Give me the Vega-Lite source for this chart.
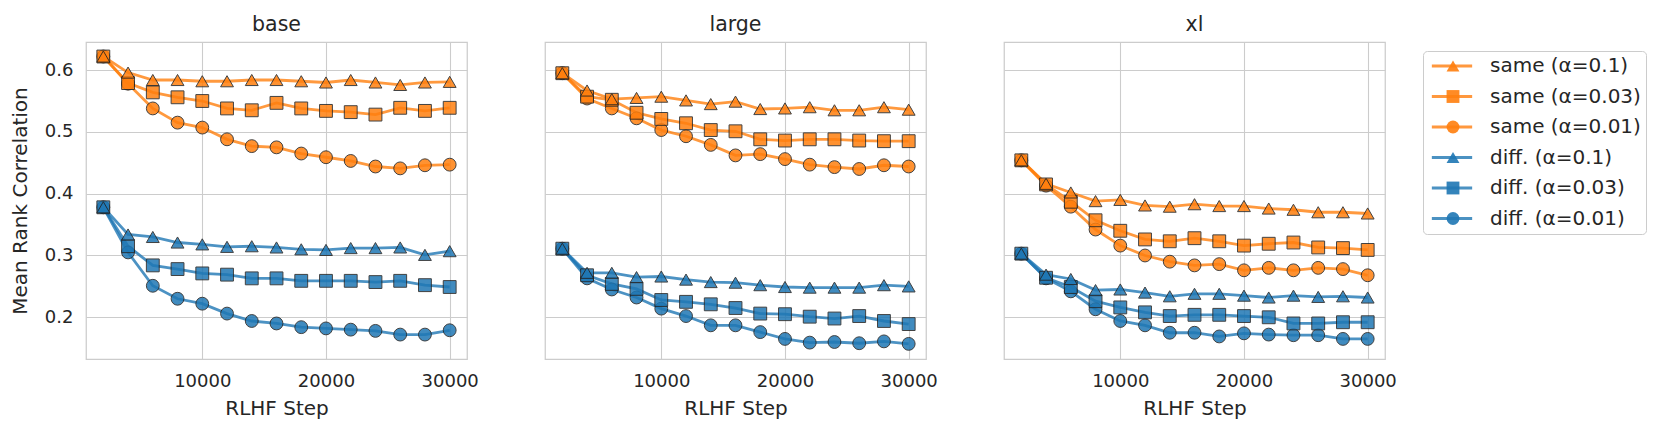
{
  "$schema": "https://vega.github.io/schema/vega-lite/v6.json",
  "padding": {"left": 10, "top": 14, "right": 5, "bottom": 4},
  "config": {"font": "DejaVu Sans", "view": {"stroke": "#cccccc", "strokeWidth": 1.25}},
  "data": {"values": [
    {"model":"base","series":"same (α=0.01)","step":2000,"value":0.622},{"model":"base","series":"same (α=0.01)","step":4000,"value":0.578},{"model":"base","series":"same (α=0.01)","step":6000,"value":0.538},{"model":"base","series":"same (α=0.01)","step":8000,"value":0.515},{"model":"base","series":"same (α=0.01)","step":10000,"value":0.507},{"model":"base","series":"same (α=0.01)","step":12000,"value":0.488},{"model":"base","series":"same (α=0.01)","step":14000,"value":0.477},{"model":"base","series":"same (α=0.01)","step":16000,"value":0.475},{"model":"base","series":"same (α=0.01)","step":18000,"value":0.465},{"model":"base","series":"same (α=0.01)","step":20000,"value":0.459},{"model":"base","series":"same (α=0.01)","step":22000,"value":0.453},{"model":"base","series":"same (α=0.01)","step":24000,"value":0.444},{"model":"base","series":"same (α=0.01)","step":26000,"value":0.441},{"model":"base","series":"same (α=0.01)","step":28000,"value":0.446},{"model":"base","series":"same (α=0.01)","step":30000,"value":0.447},
    {"model":"base","series":"same (α=0.03)","step":2000,"value":0.622},{"model":"base","series":"same (α=0.03)","step":4000,"value":0.579},{"model":"base","series":"same (α=0.03)","step":6000,"value":0.564},{"model":"base","series":"same (α=0.03)","step":8000,"value":0.556},{"model":"base","series":"same (α=0.03)","step":10000,"value":0.550},{"model":"base","series":"same (α=0.03)","step":12000,"value":0.538},{"model":"base","series":"same (α=0.03)","step":14000,"value":0.535},{"model":"base","series":"same (α=0.03)","step":16000,"value":0.547},{"model":"base","series":"same (α=0.03)","step":18000,"value":0.538},{"model":"base","series":"same (α=0.03)","step":20000,"value":0.534},{"model":"base","series":"same (α=0.03)","step":22000,"value":0.532},{"model":"base","series":"same (α=0.03)","step":24000,"value":0.528},{"model":"base","series":"same (α=0.03)","step":26000,"value":0.539},{"model":"base","series":"same (α=0.03)","step":28000,"value":0.534},{"model":"base","series":"same (α=0.03)","step":30000,"value":0.539},
    {"model":"base","series":"same (α=0.1)","step":2000,"value":0.622},{"model":"base","series":"same (α=0.1)","step":4000,"value":0.596},{"model":"base","series":"same (α=0.1)","step":6000,"value":0.584},{"model":"base","series":"same (α=0.1)","step":8000,"value":0.584},{"model":"base","series":"same (α=0.1)","step":10000,"value":0.582},{"model":"base","series":"same (α=0.1)","step":12000,"value":0.582},{"model":"base","series":"same (α=0.1)","step":14000,"value":0.584},{"model":"base","series":"same (α=0.1)","step":16000,"value":0.584},{"model":"base","series":"same (α=0.1)","step":18000,"value":0.582},{"model":"base","series":"same (α=0.1)","step":20000,"value":0.580},{"model":"base","series":"same (α=0.1)","step":22000,"value":0.584},{"model":"base","series":"same (α=0.1)","step":24000,"value":0.580},{"model":"base","series":"same (α=0.1)","step":26000,"value":0.576},{"model":"base","series":"same (α=0.1)","step":28000,"value":0.580},{"model":"base","series":"same (α=0.1)","step":30000,"value":0.581},
    {"model":"base","series":"diff. (α=0.01)","step":2000,"value":0.378},{"model":"base","series":"diff. (α=0.01)","step":4000,"value":0.305},{"model":"base","series":"diff. (α=0.01)","step":6000,"value":0.251},{"model":"base","series":"diff. (α=0.01)","step":8000,"value":0.230},{"model":"base","series":"diff. (α=0.01)","step":10000,"value":0.222},{"model":"base","series":"diff. (α=0.01)","step":12000,"value":0.206},{"model":"base","series":"diff. (α=0.01)","step":14000,"value":0.194},{"model":"base","series":"diff. (α=0.01)","step":16000,"value":0.190},{"model":"base","series":"diff. (α=0.01)","step":18000,"value":0.184},{"model":"base","series":"diff. (α=0.01)","step":20000,"value":0.182},{"model":"base","series":"diff. (α=0.01)","step":22000,"value":0.180},{"model":"base","series":"diff. (α=0.01)","step":24000,"value":0.178},{"model":"base","series":"diff. (α=0.01)","step":26000,"value":0.172},{"model":"base","series":"diff. (α=0.01)","step":28000,"value":0.172},{"model":"base","series":"diff. (α=0.01)","step":30000,"value":0.179},
    {"model":"base","series":"diff. (α=0.03)","step":2000,"value":0.378},{"model":"base","series":"diff. (α=0.03)","step":4000,"value":0.315},{"model":"base","series":"diff. (α=0.03)","step":6000,"value":0.284},{"model":"base","series":"diff. (α=0.03)","step":8000,"value":0.278},{"model":"base","series":"diff. (α=0.03)","step":10000,"value":0.271},{"model":"base","series":"diff. (α=0.03)","step":12000,"value":0.269},{"model":"base","series":"diff. (α=0.03)","step":14000,"value":0.263},{"model":"base","series":"diff. (α=0.03)","step":16000,"value":0.263},{"model":"base","series":"diff. (α=0.03)","step":18000,"value":0.259},{"model":"base","series":"diff. (α=0.03)","step":20000,"value":0.259},{"model":"base","series":"diff. (α=0.03)","step":22000,"value":0.259},{"model":"base","series":"diff. (α=0.03)","step":24000,"value":0.257},{"model":"base","series":"diff. (α=0.03)","step":26000,"value":0.259},{"model":"base","series":"diff. (α=0.03)","step":28000,"value":0.252},{"model":"base","series":"diff. (α=0.03)","step":30000,"value":0.249},
    {"model":"base","series":"diff. (α=0.1)","step":2000,"value":0.378},{"model":"base","series":"diff. (α=0.1)","step":4000,"value":0.334},{"model":"base","series":"diff. (α=0.1)","step":6000,"value":0.330},{"model":"base","series":"diff. (α=0.1)","step":8000,"value":0.321},{"model":"base","series":"diff. (α=0.1)","step":10000,"value":0.318},{"model":"base","series":"diff. (α=0.1)","step":12000,"value":0.314},{"model":"base","series":"diff. (α=0.1)","step":14000,"value":0.315},{"model":"base","series":"diff. (α=0.1)","step":16000,"value":0.313},{"model":"base","series":"diff. (α=0.1)","step":18000,"value":0.310},{"model":"base","series":"diff. (α=0.1)","step":20000,"value":0.309},{"model":"base","series":"diff. (α=0.1)","step":22000,"value":0.312},{"model":"base","series":"diff. (α=0.1)","step":24000,"value":0.312},{"model":"base","series":"diff. (α=0.1)","step":26000,"value":0.313},{"model":"base","series":"diff. (α=0.1)","step":28000,"value":0.301},{"model":"base","series":"diff. (α=0.1)","step":30000,"value":0.307},

    {"model":"large","series":"same (α=0.01)","step":2000,"value":0.595},{"model":"large","series":"same (α=0.01)","step":4000,"value":0.554},{"model":"large","series":"same (α=0.01)","step":6000,"value":0.538},{"model":"large","series":"same (α=0.01)","step":8000,"value":0.522},{"model":"large","series":"same (α=0.01)","step":10000,"value":0.503},{"model":"large","series":"same (α=0.01)","step":12000,"value":0.493},{"model":"large","series":"same (α=0.01)","step":14000,"value":0.479},{"model":"large","series":"same (α=0.01)","step":16000,"value":0.462},{"model":"large","series":"same (α=0.01)","step":18000,"value":0.464},{"model":"large","series":"same (α=0.01)","step":20000,"value":0.456},{"model":"large","series":"same (α=0.01)","step":22000,"value":0.447},{"model":"large","series":"same (α=0.01)","step":24000,"value":0.443},{"model":"large","series":"same (α=0.01)","step":26000,"value":0.440},{"model":"large","series":"same (α=0.01)","step":28000,"value":0.446},{"model":"large","series":"same (α=0.01)","step":30000,"value":0.444},
    {"model":"large","series":"same (α=0.03)","step":2000,"value":0.595},{"model":"large","series":"same (α=0.03)","step":4000,"value":0.557},{"model":"large","series":"same (α=0.03)","step":6000,"value":0.552},{"model":"large","series":"same (α=0.03)","step":8000,"value":0.531},{"model":"large","series":"same (α=0.03)","step":10000,"value":0.521},{"model":"large","series":"same (α=0.03)","step":12000,"value":0.514},{"model":"large","series":"same (α=0.03)","step":14000,"value":0.503},{"model":"large","series":"same (α=0.03)","step":16000,"value":0.501},{"model":"large","series":"same (α=0.03)","step":18000,"value":0.488},{"model":"large","series":"same (α=0.03)","step":20000,"value":0.486},{"model":"large","series":"same (α=0.03)","step":22000,"value":0.488},{"model":"large","series":"same (α=0.03)","step":24000,"value":0.488},{"model":"large","series":"same (α=0.03)","step":26000,"value":0.486},{"model":"large","series":"same (α=0.03)","step":28000,"value":0.485},{"model":"large","series":"same (α=0.03)","step":30000,"value":0.485},
    {"model":"large","series":"same (α=0.1)","step":2000,"value":0.595},{"model":"large","series":"same (α=0.1)","step":4000,"value":0.567},{"model":"large","series":"same (α=0.1)","step":6000,"value":0.553},{"model":"large","series":"same (α=0.1)","step":8000,"value":0.555},{"model":"large","series":"same (α=0.1)","step":10000,"value":0.557},{"model":"large","series":"same (α=0.1)","step":12000,"value":0.551},{"model":"large","series":"same (α=0.1)","step":14000,"value":0.545},{"model":"large","series":"same (α=0.1)","step":16000,"value":0.549},{"model":"large","series":"same (α=0.1)","step":18000,"value":0.537},{"model":"large","series":"same (α=0.1)","step":20000,"value":0.538},{"model":"large","series":"same (α=0.1)","step":22000,"value":0.540},{"model":"large","series":"same (α=0.1)","step":24000,"value":0.535},{"model":"large","series":"same (α=0.1)","step":26000,"value":0.535},{"model":"large","series":"same (α=0.1)","step":28000,"value":0.540},{"model":"large","series":"same (α=0.1)","step":30000,"value":0.536},
    {"model":"large","series":"diff. (α=0.01)","step":2000,"value":0.311},{"model":"large","series":"diff. (α=0.01)","step":4000,"value":0.263},{"model":"large","series":"diff. (α=0.01)","step":6000,"value":0.245},{"model":"large","series":"diff. (α=0.01)","step":8000,"value":0.232},{"model":"large","series":"diff. (α=0.01)","step":10000,"value":0.214},{"model":"large","series":"diff. (α=0.01)","step":12000,"value":0.202},{"model":"large","series":"diff. (α=0.01)","step":14000,"value":0.187},{"model":"large","series":"diff. (α=0.01)","step":16000,"value":0.187},{"model":"large","series":"diff. (α=0.01)","step":18000,"value":0.176},{"model":"large","series":"diff. (α=0.01)","step":20000,"value":0.165},{"model":"large","series":"diff. (α=0.01)","step":22000,"value":0.159},{"model":"large","series":"diff. (α=0.01)","step":24000,"value":0.160},{"model":"large","series":"diff. (α=0.01)","step":26000,"value":0.158},{"model":"large","series":"diff. (α=0.01)","step":28000,"value":0.161},{"model":"large","series":"diff. (α=0.01)","step":30000,"value":0.157},
    {"model":"large","series":"diff. (α=0.03)","step":2000,"value":0.311},{"model":"large","series":"diff. (α=0.03)","step":4000,"value":0.268},{"model":"large","series":"diff. (α=0.03)","step":6000,"value":0.254},{"model":"large","series":"diff. (α=0.03)","step":8000,"value":0.246},{"model":"large","series":"diff. (α=0.03)","step":10000,"value":0.228},{"model":"large","series":"diff. (α=0.03)","step":12000,"value":0.225},{"model":"large","series":"diff. (α=0.03)","step":14000,"value":0.221},{"model":"large","series":"diff. (α=0.03)","step":16000,"value":0.215},{"model":"large","series":"diff. (α=0.03)","step":18000,"value":0.206},{"model":"large","series":"diff. (α=0.03)","step":20000,"value":0.205},{"model":"large","series":"diff. (α=0.03)","step":22000,"value":0.201},{"model":"large","series":"diff. (α=0.03)","step":24000,"value":0.198},{"model":"large","series":"diff. (α=0.03)","step":26000,"value":0.202},{"model":"large","series":"diff. (α=0.03)","step":28000,"value":0.194},{"model":"large","series":"diff. (α=0.03)","step":30000,"value":0.189},
    {"model":"large","series":"diff. (α=0.1)","step":2000,"value":0.311},{"model":"large","series":"diff. (α=0.1)","step":4000,"value":0.272},{"model":"large","series":"diff. (α=0.1)","step":6000,"value":0.272},{"model":"large","series":"diff. (α=0.1)","step":8000,"value":0.265},{"model":"large","series":"diff. (α=0.1)","step":10000,"value":0.266},{"model":"large","series":"diff. (α=0.1)","step":12000,"value":0.261},{"model":"large","series":"diff. (α=0.1)","step":14000,"value":0.257},{"model":"large","series":"diff. (α=0.1)","step":16000,"value":0.256},{"model":"large","series":"diff. (α=0.1)","step":18000,"value":0.252},{"model":"large","series":"diff. (α=0.1)","step":20000,"value":0.249},{"model":"large","series":"diff. (α=0.1)","step":22000,"value":0.248},{"model":"large","series":"diff. (α=0.1)","step":24000,"value":0.248},{"model":"large","series":"diff. (α=0.1)","step":26000,"value":0.248},{"model":"large","series":"diff. (α=0.1)","step":28000,"value":0.252},{"model":"large","series":"diff. (α=0.1)","step":30000,"value":0.250},

    {"model":"xl","series":"same (α=0.01)","step":2000,"value":0.454},{"model":"xl","series":"same (α=0.01)","step":4000,"value":0.413},{"model":"xl","series":"same (α=0.01)","step":6000,"value":0.379},{"model":"xl","series":"same (α=0.01)","step":8000,"value":0.342},{"model":"xl","series":"same (α=0.01)","step":10000,"value":0.316},{"model":"xl","series":"same (α=0.01)","step":12000,"value":0.300},{"model":"xl","series":"same (α=0.01)","step":14000,"value":0.290},{"model":"xl","series":"same (α=0.01)","step":16000,"value":0.284},{"model":"xl","series":"same (α=0.01)","step":18000,"value":0.286},{"model":"xl","series":"same (α=0.01)","step":20000,"value":0.276},{"model":"xl","series":"same (α=0.01)","step":22000,"value":0.280},{"model":"xl","series":"same (α=0.01)","step":24000,"value":0.276},{"model":"xl","series":"same (α=0.01)","step":26000,"value":0.280},{"model":"xl","series":"same (α=0.01)","step":28000,"value":0.278},{"model":"xl","series":"same (α=0.01)","step":30000,"value":0.268},
    {"model":"xl","series":"same (α=0.03)","step":2000,"value":0.454},{"model":"xl","series":"same (α=0.03)","step":4000,"value":0.415},{"model":"xl","series":"same (α=0.03)","step":6000,"value":0.387},{"model":"xl","series":"same (α=0.03)","step":8000,"value":0.357},{"model":"xl","series":"same (α=0.03)","step":10000,"value":0.340},{"model":"xl","series":"same (α=0.03)","step":12000,"value":0.326},{"model":"xl","series":"same (α=0.03)","step":14000,"value":0.323},{"model":"xl","series":"same (α=0.03)","step":16000,"value":0.328},{"model":"xl","series":"same (α=0.03)","step":18000,"value":0.323},{"model":"xl","series":"same (α=0.03)","step":20000,"value":0.316},{"model":"xl","series":"same (α=0.03)","step":22000,"value":0.319},{"model":"xl","series":"same (α=0.03)","step":24000,"value":0.321},{"model":"xl","series":"same (α=0.03)","step":26000,"value":0.313},{"model":"xl","series":"same (α=0.03)","step":28000,"value":0.312},{"model":"xl","series":"same (α=0.03)","step":30000,"value":0.309},
    {"model":"xl","series":"same (α=0.1)","step":2000,"value":0.454},{"model":"xl","series":"same (α=0.1)","step":4000,"value":0.416},{"model":"xl","series":"same (α=0.1)","step":6000,"value":0.402},{"model":"xl","series":"same (α=0.1)","step":8000,"value":0.388},{"model":"xl","series":"same (α=0.1)","step":10000,"value":0.390},{"model":"xl","series":"same (α=0.1)","step":12000,"value":0.381},{"model":"xl","series":"same (α=0.1)","step":14000,"value":0.379},{"model":"xl","series":"same (α=0.1)","step":16000,"value":0.383},{"model":"xl","series":"same (α=0.1)","step":18000,"value":0.380},{"model":"xl","series":"same (α=0.1)","step":20000,"value":0.380},{"model":"xl","series":"same (α=0.1)","step":22000,"value":0.376},{"model":"xl","series":"same (α=0.1)","step":24000,"value":0.374},{"model":"xl","series":"same (α=0.1)","step":26000,"value":0.370},{"model":"xl","series":"same (α=0.1)","step":28000,"value":0.370},{"model":"xl","series":"same (α=0.1)","step":30000,"value":0.368},
    {"model":"xl","series":"diff. (α=0.01)","step":2000,"value":0.303},{"model":"xl","series":"diff. (α=0.01)","step":4000,"value":0.263},{"model":"xl","series":"diff. (α=0.01)","step":6000,"value":0.242},{"model":"xl","series":"diff. (α=0.01)","step":8000,"value":0.213},{"model":"xl","series":"diff. (α=0.01)","step":10000,"value":0.194},{"model":"xl","series":"diff. (α=0.01)","step":12000,"value":0.187},{"model":"xl","series":"diff. (α=0.01)","step":14000,"value":0.175},{"model":"xl","series":"diff. (α=0.01)","step":16000,"value":0.175},{"model":"xl","series":"diff. (α=0.01)","step":18000,"value":0.169},{"model":"xl","series":"diff. (α=0.01)","step":20000,"value":0.174},{"model":"xl","series":"diff. (α=0.01)","step":22000,"value":0.172},{"model":"xl","series":"diff. (α=0.01)","step":24000,"value":0.171},{"model":"xl","series":"diff. (α=0.01)","step":26000,"value":0.171},{"model":"xl","series":"diff. (α=0.01)","step":28000,"value":0.165},{"model":"xl","series":"diff. (α=0.01)","step":30000,"value":0.165},
    {"model":"xl","series":"diff. (α=0.03)","step":2000,"value":0.303},{"model":"xl","series":"diff. (α=0.03)","step":4000,"value":0.264},{"model":"xl","series":"diff. (α=0.03)","step":6000,"value":0.249},{"model":"xl","series":"diff. (α=0.03)","step":8000,"value":0.226},{"model":"xl","series":"diff. (α=0.03)","step":10000,"value":0.216},{"model":"xl","series":"diff. (α=0.03)","step":12000,"value":0.208},{"model":"xl","series":"diff. (α=0.03)","step":14000,"value":0.202},{"model":"xl","series":"diff. (α=0.03)","step":16000,"value":0.204},{"model":"xl","series":"diff. (α=0.03)","step":18000,"value":0.204},{"model":"xl","series":"diff. (α=0.03)","step":20000,"value":0.202},{"model":"xl","series":"diff. (α=0.03)","step":22000,"value":0.200},{"model":"xl","series":"diff. (α=0.03)","step":24000,"value":0.190},{"model":"xl","series":"diff. (α=0.03)","step":26000,"value":0.190},{"model":"xl","series":"diff. (α=0.03)","step":28000,"value":0.192},{"model":"xl","series":"diff. (α=0.03)","step":30000,"value":0.192},
    {"model":"xl","series":"diff. (α=0.1)","step":2000,"value":0.303},{"model":"xl","series":"diff. (α=0.1)","step":4000,"value":0.269},{"model":"xl","series":"diff. (α=0.1)","step":6000,"value":0.262},{"model":"xl","series":"diff. (α=0.1)","step":8000,"value":0.244},{"model":"xl","series":"diff. (α=0.1)","step":10000,"value":0.245},{"model":"xl","series":"diff. (α=0.1)","step":12000,"value":0.240},{"model":"xl","series":"diff. (α=0.1)","step":14000,"value":0.234},{"model":"xl","series":"diff. (α=0.1)","step":16000,"value":0.238},{"model":"xl","series":"diff. (α=0.1)","step":18000,"value":0.238},{"model":"xl","series":"diff. (α=0.1)","step":20000,"value":0.235},{"model":"xl","series":"diff. (α=0.1)","step":22000,"value":0.232},{"model":"xl","series":"diff. (α=0.1)","step":24000,"value":0.235},{"model":"xl","series":"diff. (α=0.1)","step":26000,"value":0.233},{"model":"xl","series":"diff. (α=0.1)","step":28000,"value":0.234},{"model":"xl","series":"diff. (α=0.1)","step":30000,"value":0.232}
  ]},
  "facet": {
    "column": {
      "field": "model", "type": "nominal", "sort": ["base", "large", "xl"],
      "header": {"title": null, "labelFontSize": 20.5, "labelColor": "#262626", "labelPadding": 6}
    }
  },
  "spacing": 76,
  "spec": {
    "width": 381,
    "height": 317,
    "encoding": {
      "x": {
        "field": "step", "type": "quantitative", "title": "RLHF Step",
        "scale": {"domain": [600, 31400], "nice": false, "zero": false},
        "axis": {"values": [10000, 20000, 30000], "format": "d", "ticks": false, "tickSize": 0, "domain": false,
                 "gridColor": "#cccccc", "gridWidth": 1.1, "labelFontSize": 18, "labelPadding": 12, "labelColor": "#262626",
                 "titleFontSize": 20, "titleFontWeight": "normal", "titleColor": "#262626", "titlePadding": 8}
      },
      "y": {
        "field": "value", "type": "quantitative", "title": "Mean Rank Correlation",
        "scale": {"domain": [0.1325, 0.6455], "nice": false, "zero": false},
        "axis": {"values": [0.2, 0.3, 0.4, 0.5, 0.6], "format": ".1f", "ticks": false, "tickSize": 0, "domain": false,
                 "gridColor": "#cccccc", "gridWidth": 1.1, "labelFontSize": 18, "labelPadding": 12, "labelColor": "#262626",
                 "titleFontSize": 20, "titleFontWeight": "normal", "titleColor": "#262626", "titlePadding": 14}
      }
    },
    "layer": [
      {
        "mark": {"type": "line", "strokeWidth": 2.8, "opacity": 0.8},
        "encoding": {
          "color": {
            "field": "series", "type": "nominal",
            "sort": ["same (α=0.1)", "same (α=0.03)", "same (α=0.01)", "diff. (α=0.1)", "diff. (α=0.03)", "diff. (α=0.01)"],
            "scale": {"range": ["#ff7f0e", "#ff7f0e", "#ff7f0e", "#1f77b4", "#1f77b4", "#1f77b4"]},
            "legend": {"title": null, "orient": "none", "legendX": 1337, "legendY": 9, "direction": "vertical", "columns": 1,
                       "symbolType": "M-3.1,0H3.1", "symbolSize": 169, "symbolStrokeWidth": 2.8, "symbolOpacity": 0.8, "symbolOffset": 14,
                       "labelFontSize": 20, "labelColor": "#262626", "labelOffset": 28,
                       "rowPadding": 10.5, "padding": 5, "strokeColor": "#cccccc", "fillColor": "white", "cornerRadius": 4}
          }
        }
      },
      {
        "mark": {"type": "point", "filled": true, "size": 165, "opacity": 0.85, "stroke": "#222222", "strokeWidth": 1},
        "encoding": {
          "fill": {
            "field": "series", "type": "nominal",
            "scale": {"domain": ["same (α=0.1)", "same (α=0.03)", "same (α=0.01)", "diff. (α=0.1)", "diff. (α=0.03)", "diff. (α=0.01)"],
                      "range": ["#ff7f0e", "#ff7f0e", "#ff7f0e", "#1f77b4", "#1f77b4", "#1f77b4"]},
            "legend": {"title": null, "orient": "none", "legendX": 1337, "legendY": 9, "direction": "vertical", "columns": 1,
                       "symbolSize": 165, "symbolStrokeColor": "#222222", "symbolStrokeWidth": 1, "symbolOpacity": 0.9, "symbolOffset": 15,
                       "labelFontSize": 20, "labelOpacity": 0, "labelOffset": 28, "rowPadding": 10.5, "padding": 5}
          },
          "shape": {
            "field": "series", "type": "nominal",
            "scale": {"domain": ["same (α=0.1)", "same (α=0.03)", "same (α=0.01)", "diff. (α=0.1)", "diff. (α=0.03)", "diff. (α=0.01)"],
                      "range": ["triangle-up", "square", "circle", "triangle-up", "square", "circle"]},
            "legend": {"title": null, "orient": "none", "legendX": 1337, "legendY": 9, "direction": "vertical", "columns": 1,
                       "symbolSize": 165, "symbolStrokeColor": "#222222", "symbolStrokeWidth": 1, "symbolOpacity": 0.9, "symbolOffset": 15,
                       "labelFontSize": 20, "labelOpacity": 0, "labelOffset": 28, "rowPadding": 10.5, "padding": 5}
          }
        }
      }
    ]
  }
}
